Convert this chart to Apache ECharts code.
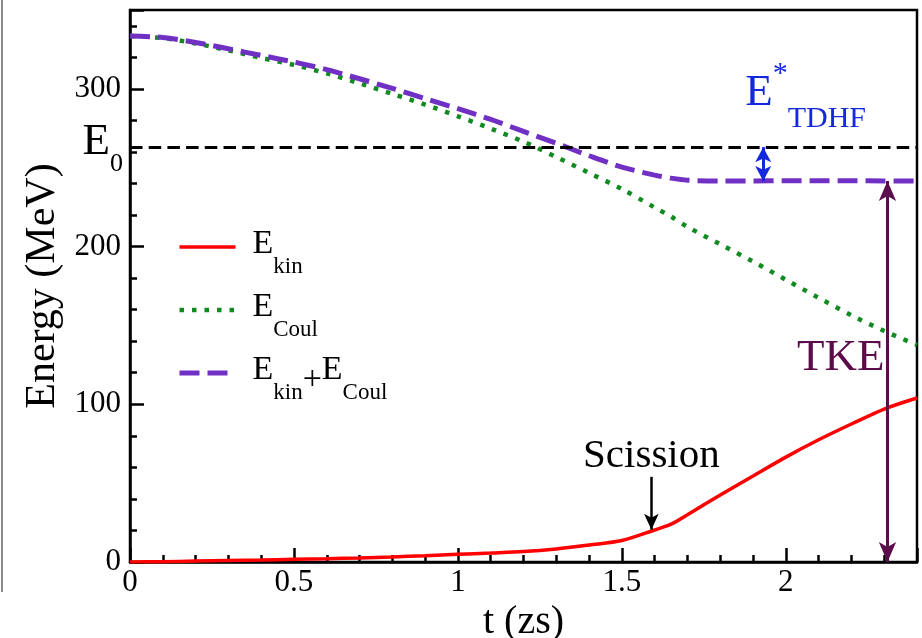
<!DOCTYPE html>
<html>
<head>
<meta charset="utf-8">
<title>Energy vs time</title>
<script src="https://cdn.jsdelivr.net/npm/echarts@6/dist/echarts.min.js"></script>
<style>
  html, body { margin: 0; padding: 0; background: #fff; }
  #chart { width: 922px; height: 638px; }
</style>
</head>
<body>
<div id="chart"></div>
<script>
// Time grid (zs)
const time  = [0, 0.1, 0.2, 0.3, 0.4, 0.5, 0.6, 0.7, 0.8, 0.9, 1.0, 1.1, 1.2, 1.3, 1.4, 1.5, 1.6, 1.65, 1.7, 1.8, 1.9, 2.0, 2.1, 2.2, 2.3, 2.4];
// Kinetic energy of the fragments (MeV)
const eKin  = [0, 0.2, 0.6, 1.0, 1.3, 1.7, 2.1, 2.6, 3.2, 4.0, 4.9, 5.7, 6.6, 8.3, 10.8, 13.6, 20.3, 24, 30, 42.5, 54.5, 66.5, 77.5, 87.5, 97, 104];
// Coulomb energy between the fragments (MeV)
const eCoul = [333.5, 332.2, 328.8, 324.4, 319.6, 315.2, 309.8, 303.5, 296.8, 290, 282.6, 274.8, 266.5, 256.8, 246.7, 236.5, 224.8, 219, 212.5, 201.5, 190.5, 179, 167.5, 156.5, 146.5, 137.6];
// Sum E_kin + E_Coul (MeV)
const eSum  = [333.5, 332.6, 329.4, 325.4, 321.2, 317, 312.2, 306.4, 300.3, 293.8, 287.4, 280.6, 273, 265.5, 257.6, 250.4, 245.3, 243.4, 242.1, 241.5, 241.6, 241.7, 241.7, 241.7, 241.6, 241.5];

// Reference energy and annotation values
const E0 = 263;
const finalSum = 241.5;
const scissionTime = 1.59, scissionTop = 54, scissionTip = 20.5;
const tkeTime = 2.31;
const excitationTime = 1.931;
const tkeLabelEnergy = 120;

// Tick labels
const xTickLabels = ['0', '0.5', '1', '1.5', '2'];
const yTickLabels = ['0', '100', '200', '300'];

const SERIF = "'Liberation Serif', 'Times New Roman', serif";
const pairs = (ys) => time.map((t, i) => [t, ys[i]]);

const seriesNames = {
  kin: 'E_kin',
  coul: 'E_Coul',
  sum: 'E_kin+E_Coul'
};
const legendText = {
  'E_kin': '{e|E}{s|kin}',
  'E_Coul': '{e|E}{s|Coul}',
  'E_kin+E_Coul': '{e|E}{s|kin}{p|+}{e|E}{s|Coul}'
};

const arrowEnd = (t, e, size) => ({ coord: [t, e], symbol: 'arrow', symbolSize: size });
const plainEnd = (t, e) => ({ coord: [t, e], symbol: 'none' });

const chart = echarts.init(document.getElementById('chart'), null, { renderer: 'canvas' });

const option = {
  animation: false,
  backgroundColor: '#fff',
  grid: {
    left: 130, right: 5, top: 10, bottom: 76,
    show: true, borderColor: '#000', borderWidth: 2.5,
    outerBoundsMode: 'none'
  },
  xAxis: [
    {
      type: 'value', min: 0, max: 2.4, interval: 0.5, position: 'bottom',
      axisLine: { onZero: false, lineStyle: { color: '#000', width: 2.5 } },
      axisTick: { inside: true, length: 14, lineStyle: { color: '#000', width: 2.5 } },
      axisLabel: {
        color: '#000', fontFamily: SERIF, fontSize: 31, margin: 5,
        formatter: (v) => {
          const k = Math.round(v * 2);
          return Math.abs(v * 2 - k) < 1e-6 && k < xTickLabels.length ? xTickLabels[k] : '';
        }
      },
      splitLine: { show: false },
      name: 't (zs)', nameLocation: 'middle', nameGap: 38,
      nameTextStyle: { color: '#000', fontFamily: SERIF, fontSize: 40 }
    },
    {
      type: 'value', min: 0, max: 2.4, interval: 0.1, position: 'bottom',
      axisLine: { show: false },
      axisTick: { inside: true, length: 7, lineStyle: { color: '#000', width: 2.5 } },
      axisLabel: { show: false },
      splitLine: { show: false }
    }
  ],
  yAxis: [
    {
      type: 'value', min: 0, max: 350, interval: 100, position: 'left',
      axisLine: { show: true, onZero: false, lineStyle: { color: '#000', width: 2.5 } },
      axisTick: { show: true, inside: true, length: 14, lineStyle: { color: '#000', width: 2.5 } },
      axisLabel: {
        color: '#000', fontFamily: SERIF, fontSize: 31, margin: 9,
        formatter: (v) => {
          const k = Math.round(v / 100);
          return Math.abs(v - k * 100) < 1e-6 && k < yTickLabels.length ? yTickLabels[k] : '';
        }
      },
      splitLine: { show: false },
      name: 'Energy (MeV)', nameLocation: 'middle', nameGap: 62,
      nameTextStyle: { color: '#000', fontFamily: SERIF, fontSize: 42 }
    },
    {
      type: 'value', min: 0, max: 350, interval: 20, position: 'left',
      axisLine: { show: false },
      axisTick: { show: true, inside: true, length: 7, lineStyle: { color: '#000', width: 2.5 } },
      axisLabel: { show: false },
      splitLine: { show: false }
    }
  ],
  legend: {
    orient: 'vertical',
    left: 177, top: 216,
    padding: 0,
    itemWidth: 56, itemHeight: 14, itemGap: 1,
    selectedMode: false,
    itemStyle: { opacity: 0 },
    lineStyle: { width: 'inherit' },
    data: [seriesNames.kin, seriesNames.coul, seriesNames.sum],
    formatter: (name) => legendText[name],
    textStyle: {
      color: '#000', fontFamily: SERIF, padding: [0, 0, 0, 12],
      rich: {
        e: { fontSize: 34, lineHeight: 34, fontFamily: SERIF, color: '#000', padding: [0, 0, 6, 0] },
        s: { fontSize: 23, lineHeight: 23, fontFamily: SERIF, color: '#000', padding: [39, 0, 0, 0] },
        p: { fontSize: 34, lineHeight: 34, fontFamily: SERIF, color: '#000', padding: [14, 0, 0, 0] }
      }
    }
  },
  series: [
    {
      name: seriesNames.kin, type: 'line', data: pairs(eKin),
      symbol: 'none', smooth: 0.3, z: 3,
      itemStyle: { color: '#ff0000' },
      lineStyle: { color: '#ff0000', width: 3.5 }
    },
    {
      name: seriesNames.coul, type: 'line', data: pairs(eCoul),
      symbol: 'none', smooth: 0.3, z: 3,
      itemStyle: { color: '#128a22' },
      lineStyle: { color: '#128a22', width: 4.5, type: [4.5, 8] }
    },
    {
      name: seriesNames.sum, type: 'line', data: pairs(eSum),
      symbol: 'none', smooth: 0.3, z: 4,
      itemStyle: { color: '#7030c4' },
      lineStyle: { color: '#7030c4', width: 5, type: [20, 8] },
      markLine: {
        silent: true, animation: false,
        symbol: ['none', 'none'],
        label: { show: false },
        emphasis: { disabled: true },
        lineStyle: { type: 'solid' },
        data: [
          { yAxis: E0, symbol: 'none', lineStyle: { color: '#000', width: 3.2, type: [12.5, 6.2] } },
          [plainEnd(scissionTime, scissionTop),
           Object.assign(arrowEnd(scissionTime, scissionTip, [11, 16]), { lineStyle: { color: '#000', width: 2.5, type: 'solid' } })],
          [arrowEnd(tkeTime, 0, [13, 20]),
           Object.assign(arrowEnd(tkeTime, finalSum, [13, 20]), { lineStyle: { color: '#5c0c4a', width: 3, type: 'solid' } })],
          [arrowEnd(excitationTime, E0, [12, 15]),
           Object.assign(arrowEnd(excitationTime, finalSum, [12, 15]), { lineStyle: { color: '#1428e0', width: 3, type: 'solid' } })]
        ]
      }
    }
  ]
};

chart.setOption(option);

// Text annotations anchored to data coordinates
const px = (t, e) => chart.convertToPixel({ seriesIndex: 0 }, [t, e]);
const pE0 = px(0, E0);
const pEx = px(excitationTime, E0);
const pSc = px(scissionTime, scissionTop);
const pTke = px(tkeTime, tkeLabelEnergy);

chart.setOption({
  graphic: [
    {
      type: 'line', silent: true,
      shape: { x1: 2, y1: 0, x2: 2, y2: 592 },
      style: { stroke: '#8a8a8a', lineWidth: 2 }
    },
    {
      type: 'text', silent: true, x: pE0[0] - 7, y: pE0[1] - 5,
      style: {
        text: '{e|E}{s|0}', align: 'right', verticalAlign: 'middle', fill: '#000',
        fontFamily: SERIF,
        rich: {
          e: { fontSize: 45, lineHeight: 45, fontFamily: SERIF, fill: '#000' },
          s: { fontSize: 26, lineHeight: 26, fontFamily: SERIF, fill: '#000', padding: [44, 0, 0, 0] }
        }
      }
    },
    {
      type: 'text', silent: true, x: pEx[0] - 18, y: pEx[1] - 54,
      style: {
        text: '{e|E}{u|*}{s|TDHF}', align: 'left', verticalAlign: 'middle', fill: '#1428e0',
        fontFamily: SERIF,
        rich: {
          e: { fontSize: 45, lineHeight: 45, fontFamily: SERIF, fill: '#1428e0' },
          u: { fontSize: 30, lineHeight: 30, fontFamily: SERIF, fill: '#1428e0', padding: [0, 0, 39, 0] },
          s: { fontSize: 30, lineHeight: 30, fontFamily: SERIF, fill: '#1428e0', padding: [51, 0, 0, 0] }
        }
      }
    },
    {
      type: 'text', silent: true, x: pSc[0], y: pSc[1] - 21,
      style: {
        text: 'Scission', align: 'center', verticalAlign: 'middle',
        fontFamily: SERIF, fontSize: 41, fill: '#000'
      }
    },
    {
      type: 'text', silent: true, x: pTke[0] - 3, y: pTke[1] - 15,
      style: {
        text: 'TKE', align: 'right', verticalAlign: 'middle',
        fontFamily: SERIF, fontSize: 45, fill: '#5c0c4a'
      }
    }
  ]
});
</script>
</body>
</html>
